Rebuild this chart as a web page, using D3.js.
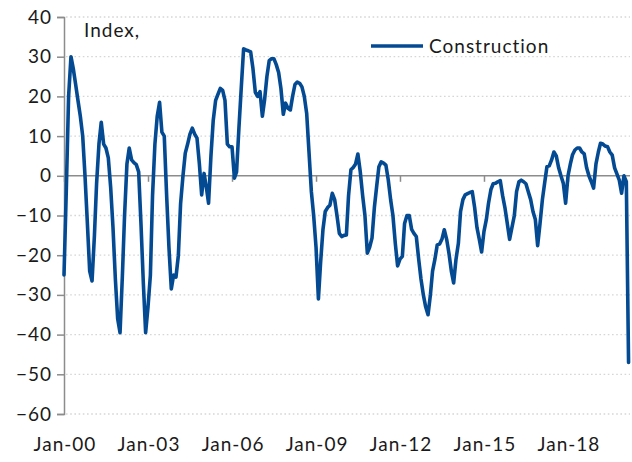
<!DOCTYPE html>
<html>
<head>
<meta charset="utf-8">
<script src="https://cdn.jsdelivr.net/npm/d3@7/dist/d3.min.js"></script>
<style>
  html, body { margin: 0; padding: 0; background: #ffffff; }
  svg { display: block; }
  text { font-family: Lato, "Open Sans", sans-serif; fill: #1a1a1a; }
</style>
</head>
<body>
<svg id="chart" width="632" height="462"></svg>
<script>
// Monthly index values, Jan-2000 .. Mar-2020
const seriesName = "Construction";
const startYear = 2000;
const construction = [
  // 2000
  -25, -3, 20, 30, 27, 23, 19, 15, 10, 0, -12, -24,
  // 2001
  -26.5, -15, -2, 8, 13.5, 8, 7, 4.5, -3, -13, -26, -36,
  // 2002
  -39.5, -25, -10, 3, 7, 4, 3.3, 2.8, 1, -12, -27, -39.5,
  // 2003
  -33, -25, -5, 8, 15, 18.5, 11, 10, -5, -18, -28.5, -25,
  // 2004
  -25.5, -20, -7, 0, 5.7, 8, 10.5, 12, 10.5, 9.5, 3, -4.8,
  // 2005
  0.6, -3, -6.9, 5, 14, 19, 20.5, 22, 21.5, 19, 8, 7.3,
  // 2006
  7.3, -0.6, 1, 12, 22, 32, 31.7, 31.5, 31.2, 27, 21, 20,
  // 2007
  21.2, 15, 19, 25, 29, 29.5, 29.5, 28, 26, 22, 15.5, 18.3,
  // 2008
  17, 16.6, 20, 23, 23.6, 23.3, 22.4, 20, 15.7, 6, -4, -10,
  // 2009
  -18, -31, -22, -13.6, -9, -8, -7.4, -4.4, -6, -10, -14.5, -15.3,
  // 2010
  -15, -14.9, -5, 1.5, 2.1, 3, 5.5, 1, -5, -10, -19.5, -18,
  // 2011
  -15.7, -8, -3, 2.3, 3.5, 3.2, 2.7, -1, -6, -10, -17, -22.7,
  // 2012
  -21, -20.3, -12, -10, -10, -13.5, -14.5, -15.3, -21, -26, -30, -33,
  // 2013
  -35, -30, -24, -21, -17.4, -17.2, -16, -13.6, -16, -19.5, -24, -27,
  // 2014
  -21, -17, -9, -6, -4.8, -4.5, -4.2, -4, -8, -13, -16, -19.2,
  // 2015
  -14, -11, -6.9, -3.5, -2, -1.9, -1.5, -1.2, -5, -8, -12, -16,
  // 2016
  -13, -10, -4, -1.5, -1.1, -1.5, -2, -4, -6, -9, -11, -17.6,
  // 2017
  -12, -6, -2, 2.3, 2.5, 4, 6, 5, 2, 0, -1.9, -6.9,
  // 2018
  0, 3, 5.3, 6.5, 7, 7, 6, 5.5, 2, 0, -1.5, -3.1,
  // 2019
  3, 6, 8.2, 8, 7.5, 7.3, 6, 5.2, 2, 0.5, -1.1, -4.4,
  // 2020
  0, -1.5, -47
];
const yTicks = [40, 30, 20, 10, 0, -10, -20, -30, -40, -50, -60];
const xTickLabels = ["Jan-00", "Jan-03", "Jan-06", "Jan-09", "Jan-12", "Jan-15", "Jan-18"];
const xTickYears = [2000, 2003, 2006, 2009, 2012, 2015, 2018];
const axisTitle = "Index,";

const data = construction.map((v, i) => ({ date: new Date(startYear, i, 1), value: v }));

const svg = d3.select("#chart");
const plotLeft = 64, plotTop = 17, plotBottom = 414, plotRight = 630;
const x = d3.scaleTime()
  .domain([new Date(2000, 0, 1), new Date(2018, 0, 1)])
  .range([plotLeft, 568]);
const y = d3.scaleLinear().domain([-60, 40]).range([plotBottom, plotTop]);

// dotted gridlines
svg.append("g").selectAll("line")
  .data(yTicks.filter(t => t !== 0))
  .join("line")
  .attr("x1", plotLeft + 2).attr("x2", plotRight)
  .attr("y1", d => y(d)).attr("y2", d => y(d))
  .attr("stroke", "#d6d6d6").attr("stroke-width", 1.3)
  .attr("stroke-dasharray", "1.6,2.6");

// y axis
const yAxis = d3.axisLeft(y).tickValues(yTicks).tickSize(7).tickPadding(5).tickFormat(d3.format("d"));
const gy = svg.append("g").attr("transform", `translate(${plotLeft},0)`).call(yAxis);
gy.select(".domain").attr("stroke", "#8c8c8c").attr("stroke-width", 1.5);
gy.selectAll(".tick line").attr("stroke", "#8c8c8c").attr("stroke-width", 1.5);
gy.selectAll(".tick text").attr("font-size", 19).attr("font-family", "Lato, sans-serif").attr("fill", "#1a1a1a")
  .style("letter-spacing", "1px");

// zero line with year ticks
const gx = svg.append("g").attr("transform", `translate(0,${y(0)})`)
  .call(d3.axisBottom(x)
    .tickValues(xTickYears.map(yr => new Date(yr, 0, 1)))
    .tickSize(6).tickFormat(""));
gx.select(".domain").attr("d", `M${plotLeft},0H${plotRight}`).attr("stroke", "#8c8c8c").attr("stroke-width", 1.5);
gx.selectAll(".tick line").attr("stroke", "#8c8c8c").attr("stroke-width", 1.5);

// x labels at bottom
svg.append("g").selectAll("text")
  .data(xTickYears)
  .join("text")
  .attr("x", d => x(new Date(d, 0, 1)) + 1)
  .attr("y", 451)
  .attr("text-anchor", "middle")
  .attr("font-size", 19)
  .style("letter-spacing", "1px")
  .text((d, i) => xTickLabels[i]);

// line
const line = d3.line().x(d => x(d.date)).y(d => y(d.value));
svg.append("path")
  .datum(data)
  .attr("fill", "none")
  .attr("stroke", "#044a92")
  .attr("stroke-width", 3.6)
  .attr("stroke-linejoin", "round")
  .attr("stroke-linecap", "round")
  .attr("d", line);

// axis title
svg.append("text").attr("x", 84).attr("y", 37).attr("font-size", 19)
  .style("letter-spacing", "1px").text(axisTitle);

// legend
svg.append("line").attr("x1", 371).attr("x2", 423).attr("y1", 46).attr("y2", 46)
  .attr("stroke", "#044a92").attr("stroke-width", 3.6);
svg.append("text").attr("x", 429).attr("y", 53).attr("font-size", 19)
  .style("letter-spacing", "1px").text(seriesName);
</script>
</body>
</html>
